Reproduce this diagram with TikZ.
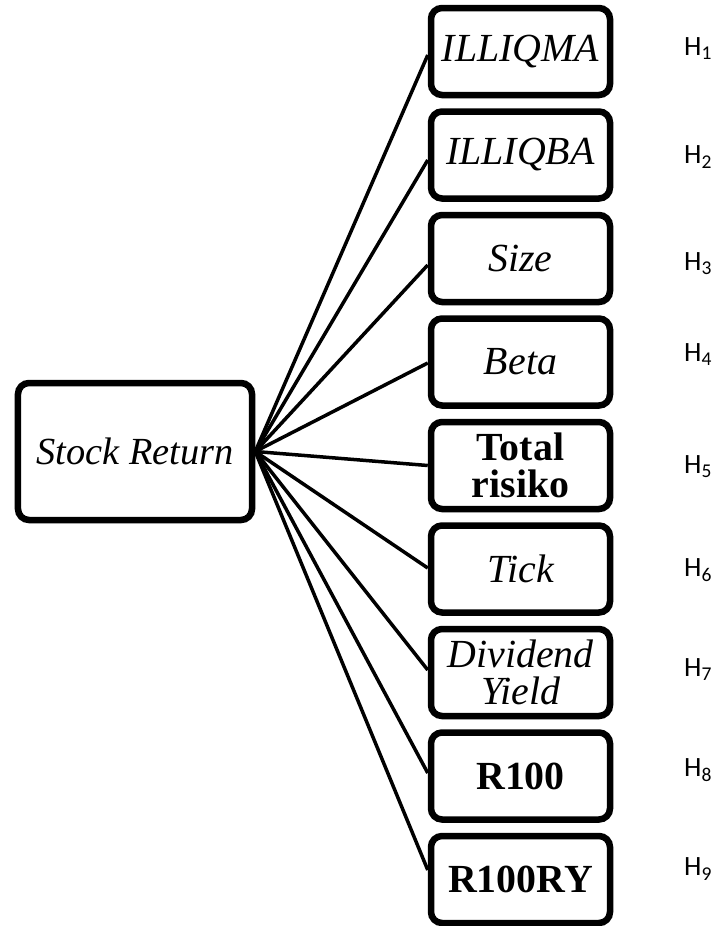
\documentclass[tikz,border=0pt]{standalone}
\usepackage{fontspec}
\usetikzlibrary{shadows}
\setmainfont{Liberation Serif}
\newfontfamily\hfont{Carlito}
\begin{document}
\begin{tikzpicture}[x=1bp,y=-1bp,
  varbox/.style={draw=black, line width=6.5bp, rounded corners=11bp, fill=white,
    drop shadow={opacity=0.18, shadow xshift=1bp, shadow yshift=-3bp},
    minimum width=179bp, minimum height=87bp, inner sep=0pt, align=center,
    font=\fontsize{40}{37}\selectfont},
  mainbox/.style={varbox, minimum width=234bp, minimum height=137bp,
    font=\fontsize{38.5}{37}\selectfont},
  conn/.style={draw=black, line width=3.5bp},
  hlab/.style={anchor=west, inner sep=0pt, font=\hfont\fontsize{28}{30}\selectfont}]
\useasboundingbox (0,0) rectangle (715,926);
\node[mainbox] (sr) at (135,451.5) {\itshape Stock Return};
\node[varbox] (b1) at (520.5,51.5)  {\itshape ILLIQMA};
\node[varbox] (b2) at (520.5,155)   {\itshape ILLIQBA};
\node[varbox] (b3) at (520.5,258.5) {\itshape Size};
\node[varbox] (b4) at (520.5,362)   {\itshape Beta};
\node[varbox] (b5) at (520.5,465.5) {\bfseries Total\\\bfseries risiko};
\node[varbox] (b6) at (520.5,569)   {\itshape Tick};
\node[varbox] (b7) at (520.5,672.5) {\itshape Dividend\\\itshape Yield};
\node[varbox] (b8) at (520.5,776)   {\bfseries R100};
\node[varbox] (b9) at (520.5,879.5) {\bfseries R100RY};
\draw[conn] (sr.east) -- ([yshift=-3.5bp]b1.west);
\draw[conn] (sr.east) -- ([yshift=-5bp]b2.west);
\draw[conn] (sr.east) -- ([yshift=-6.5bp]b3.west);
\draw[conn] (sr.east) -- ([yshift=-1bp]b4.west);
\draw[conn] (sr.east) -- (b5.west);
\draw[conn] (sr.east) -- ([yshift=1bp]b6.west);
\draw[conn] (sr.east) -- ([yshift=2.5bp]b7.west);
\draw[conn] (sr.east) -- ([yshift=3bp]b8.west);
\draw[conn] (sr.east) -- ([yshift=9.5bp]b9.west);
\node[hlab] (h1) at (684,49)  {H\textsubscript{1}};
\node[hlab] (h2) at (684,157) {H\textsubscript{2}};
\node[hlab] (h3) at (684,264) {H\textsubscript{3}};
\node[hlab] (h4) at (684,355) {H\textsubscript{4}};
\node[hlab] (h5) at (684,467) {H\textsubscript{5}};
\node[hlab] (h6) at (684,570) {H\textsubscript{6}};
\node[hlab] (h7) at (684,670) {H\textsubscript{7}};
\node[hlab] (h8) at (684,770) {H\textsubscript{8}};
\node[hlab] (h9) at (684,869) {H\textsubscript{9}};
\end{tikzpicture}
\end{document}
